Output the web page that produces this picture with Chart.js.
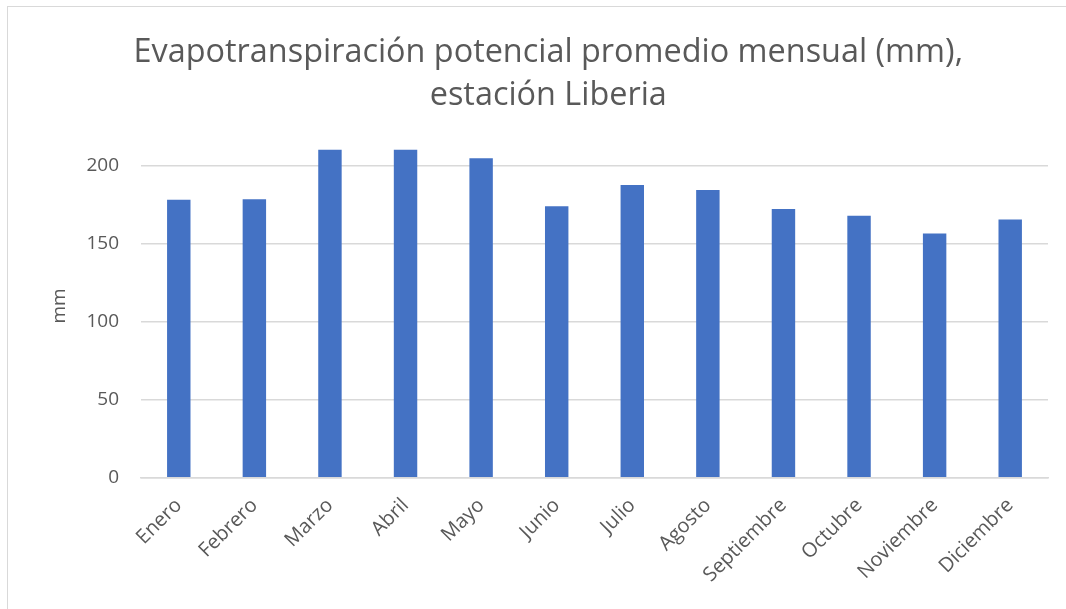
<!DOCTYPE html>
<html>
<head>
<meta charset="utf-8">
<script src="https://cdn.jsdelivr.net/npm/chart.js@4"></script>
<style>
  html, body { margin: 0; padding: 0; background: #fff; }
  #wrap { position: relative; width: 1066px; height: 609px; overflow: hidden; }
  #frame { position: absolute; left: 7px; top: 6px; width: 1100px; height: 700px;
           border-left: 1px solid #d9d9d9; border-top: 1px solid #d9d9d9; box-sizing: border-box; }
  canvas { position: absolute; left: 0; top: 0; }
</style>
</head>
<body>
<div id="wrap">
  <div id="frame"></div>
  <canvas id="c" width="1066" height="609"></canvas>
</div>
<script>
const categories = ["Enero","Febrero","Marzo","Abril","Mayo","Junio","Julio","Agosto","Septiembre","Octubre","Noviembre","Diciembre"];
const etpValues = [178, 178.3, 210, 210, 204.6, 173.8, 187.5, 184.2, 172, 167.7, 156.4, 165.4];
const titleLines = ["Evapotranspiración potencial promedio mensual (mm),", "estación Liberia"];
const yAxisTitle = "mm";

const FONT = "'Open Sans', sans-serif";
const TXT = "#595959";

new Chart(document.getElementById("c"), {
  type: "bar",
  data: {
    labels: categories,
    datasets: [{
      label: "ETP",
      data: etpValues,
      backgroundColor: "#4472C4",
      borderWidth: 0,
      barPercentage: 0.31,
      categoryPercentage: 1.0
    }]
  },
  options: {
    responsive: false,
    animation: false,
    layout: { padding: { left: 48.6, right: 18, top: 31, bottom: 6 } },
    plugins: {
      legend: { display: false },
      tooltip: { enabled: false },
      title: {
        display: true,
        text: titleLines,
        color: TXT,
        font: { family: FONT, size: 32.4, weight: "normal", lineHeight: 1.33 },
        padding: { top: 0, bottom: 17 }
      }
    },
    scales: {
      x: {
        grid: { display: false, drawTicks: false },
        border: { display: true, color: "#d9d9d9", width: 1.5 },
        ticks: {
          color: TXT,
          font: { family: FONT, size: 20 },
          maxRotation: 45,
          minRotation: 45,
          padding: 16,
          autoSkip: false
        }
      },
      y: {
        min: 0,
        max: 220,
        afterBuildTicks: (axis) => { axis.ticks = axis.ticks.filter(t => t.value % 50 === 0); },
        grid: { color: "#d9d9d9", lineWidth: 1.5, drawTicks: false },
        border: { display: false },
        title: {
          display: true,
          text: yAxisTitle,
          color: TXT,
          font: { family: FONT, size: 19 },
          padding: { top: 0, bottom: -7 }
        },
        ticks: {
          stepSize: 50,
          color: TXT,
          font: { family: FONT, size: 19 },
          padding: 22
        }
      }
    }
  }
});
</script>
</body>
</html>
